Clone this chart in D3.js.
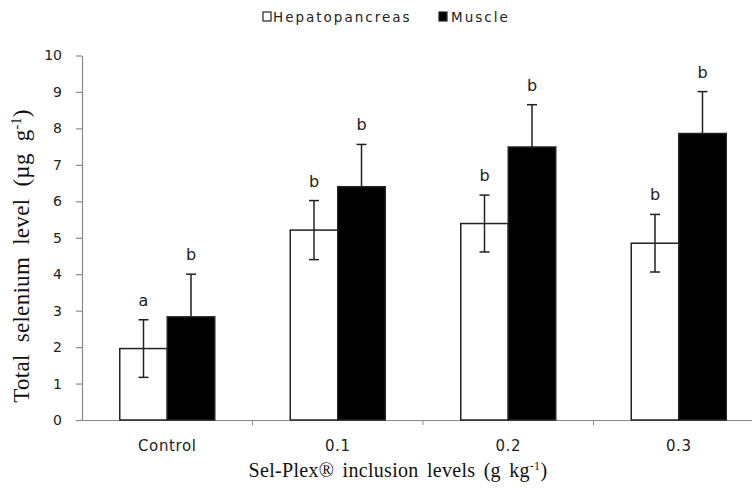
<!DOCTYPE html>
<html><head><meta charset="utf-8">
<script src="https://cdn.jsdelivr.net/npm/d3@7"></script>
<style>body{margin:0;background:#fff}</style>
</head><body>
<svg id="c" width="752" height="493"></svg>
<script>
const categories = ["Control", "0.1", "0.2", "0.3"];
const seriesNames = ["Hepatopancreas", "Muscle"];
const hepatopancreas = [1.96, 5.21, 5.39, 4.85];
const hepatoErr = [0.79, 0.81, 0.78, 0.79];
const muscle = [2.83, 6.40, 7.49, 7.86];
const muscleErr = [1.17, 1.16, 1.16, 1.15];
const hepatoLetters = ["a", "b", "b", "b"];
const muscleLetters = ["b", "b", "b", "b"];
const yTicks = [0,1,2,3,4,5,6,7,8,9,10];

const svg = d3.select("#c");
const x0 = 82, x1 = 764, yTop = 55.5, yBot = 420;
const x = d3.scaleBand().domain(categories).range([x0, x1]).paddingInner(0).paddingOuter(0);
const xs = d3.scaleBand().domain(seriesNames).range([0, 95]);
const y = d3.scaleLinear().domain([0, 10]).range([yBot, yTop]);
const fills = {Hepatopancreas: "#fff", Muscle: "#000"};

// axes
const yAxis = svg.append("g").attr("transform", `translate(${x0},0)`)
  .call(d3.axisLeft(y).tickValues(yTicks).tickSize(6).tickSizeOuter(0).tickPadding(14));
yAxis.select(".domain").attr("stroke", "#8a8a8a").attr("stroke-width", 1.2);
yAxis.selectAll(".tick line").attr("stroke", "#8a8a8a").attr("stroke-width", 1.2);
yAxis.selectAll("text").attr("font-family", "DejaVu Sans").attr("font-size", 14).attr("fill", "#222");

const xAxis = svg.append("g").attr("transform", `translate(0,${yBot})`)
  .call(d3.axisBottom(x).tickSize(0).tickPadding(20));
xAxis.select(".domain").attr("stroke", "#8a8a8a").attr("stroke-width", 1.2);
xAxis.selectAll("text").attr("font-family", "DejaVu Sans").attr("font-size", 15).attr("fill", "#222").attr("letter-spacing", 0.6);
// boundary ticks
svg.append("g").selectAll("line").data(categories.slice(1)).join("line")
  .attr("x1", d => x(d)).attr("x2", d => x(d))
  .attr("y1", yBot).attr("y2", yBot + 5)
  .attr("stroke", "#8a8a8a").attr("stroke-width", 1);

const groups = [
  {name: "Hepatopancreas", vals: hepatopancreas, err: hepatoErr, letters: hepatoLetters, down: true},
  {name: "Muscle", vals: muscle, err: muscleErr, letters: muscleLetters, down: false}
];
const barOff = (x.bandwidth() - 95) / 2;
groups.forEach(g => {
  const gg = svg.append("g");
  categories.forEach((c, i) => {
    const bx = x(c) + barOff + xs(g.name);
    const bw = xs.bandwidth();
    const cx = bx + bw / 2;
    gg.append("rect").attr("x", bx).attr("y", y(g.vals[i]))
      .attr("width", bw).attr("height", yBot - y(g.vals[i]))
      .attr("fill", fills[g.name]).attr("stroke", "#222").attr("stroke-width", 1.5);
    const hi = y(g.vals[i] + g.err[i]);
    const lo = g.down ? y(g.vals[i] - g.err[i]) : y(g.vals[i]);
    gg.append("line").attr("x1", cx).attr("x2", cx).attr("y1", hi).attr("y2", lo)
      .attr("stroke", "#222").attr("stroke-width", 1.5);
    const caps = g.down ? [hi, lo] : [hi];
    caps.forEach(yy => gg.append("line").attr("x1", cx - 5).attr("x2", cx + 5)
      .attr("y1", yy).attr("y2", yy).attr("stroke", "#222").attr("stroke-width", 1.5));
    gg.append("text").attr("x", cx).attr("y", hi - 14).attr("text-anchor", "middle")
      .attr("font-family", "DejaVu Sans").attr("font-size", 16).attr("fill", "#222")
      .text(g.letters[i]);
  });
});

// legend
const leg = svg.append("g");
[{name: "Hepatopancreas", bx: 263, tx: 273}, {name: "Muscle", bx: 439, tx: 451}].forEach(l => {
  leg.append("rect").attr("x", l.bx).attr("y", 12).attr("width", 8).attr("height", 9)
    .attr("fill", fills[l.name]).attr("stroke", "#222").attr("stroke-width", 1.2);
  leg.append("text").attr("x", l.tx).attr("y", 22).attr("font-family", "DejaVu Sans")
    .attr("font-size", 13.5).attr("letter-spacing", 2).attr("fill", "#222").text(l.name);
});

// axis titles
const xt = svg.append("text").attr("x", 398).attr("y", 477).attr("text-anchor", "middle")
  .attr("font-family", "Liberation Serif").attr("font-size", 20).attr("fill", "#111")
  .attr("letter-spacing", 0.3).attr("word-spacing", 3);
xt.append("tspan").text("Sel-Plex® inclusion levels (g kg");
xt.append("tspan").attr("dy", -7).attr("font-size", 12).text("-1");
xt.append("tspan").attr("dy", 7).text(")");

const yt = svg.append("text").attr("transform", "translate(29,256) rotate(-90)").attr("text-anchor", "middle")
  .attr("font-family", "Liberation Serif").attr("font-size", 23).attr("fill", "#111")
  .attr("letter-spacing", 0.3).attr("word-spacing", 6);
yt.append("tspan").text("Total selenium level (µg g");
yt.append("tspan").attr("dy", -8).attr("font-size", 14).text("-1");
yt.append("tspan").attr("dy", 8).text(")");
</script>
</body></html>
